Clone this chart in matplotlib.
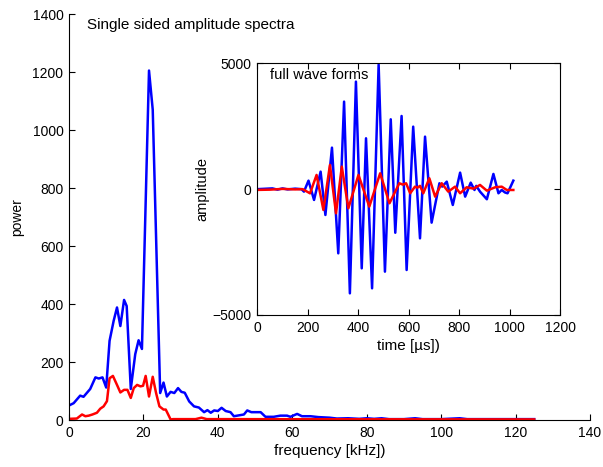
import matplotlib
matplotlib.use("Agg")
import matplotlib.pyplot as plt

plt.rcParams['font.family'] = ['Liberation Sans', 'DejaVu Sans']
plt.rcParams['font.size'] = 10

# Spectra (frequency kHz, power)
blue_f = [0, 1.25, 3.0, 3.9, 5.7, 7.1, 8.0, 9.0, 10.0, 10.9, 12.0, 12.9, 13.8, 14.8, 15.5, 16.6,
          17.8, 18.7, 19.6, 21.5, 22.5, 24.5, 25.4, 26.3, 27.3, 28.3, 29.3, 30.2, 31.1, 32.3,
          33.6, 34.9, 36.3, 37.2, 38.1, 39.0, 40.0, 41.0, 42.1, 43.4, 44.3, 46.1, 47.0, 47.9,
          49.0, 51.5, 52.8, 55.0, 56.8, 58.6, 59.5, 61.3, 62.6, 64.9, 67, 70, 72, 75, 78, 80,
          82, 84, 86, 90, 93, 95, 100, 105, 107, 115, 120, 125]
blue_p = [50, 58, 84, 80, 107, 147, 143, 147, 112, 273, 342, 388, 324, 414, 393, 107,
          227, 275, 245, 1205, 1070, 93, 129, 81, 97, 93, 110, 97, 94, 64,
          47, 43, 27, 34, 25, 33, 31, 42, 31, 27, 13, 17, 19, 33,
          27, 27, 11, 11, 15, 15, 11, 21, 13, 13, 10, 8, 5, 6, 4, 6,
          4, 6, 3, 3, 6, 3, 3, 6, 3, 3, 3, 3]
red_f = [0, 2.1, 3.5, 4.4, 5.3, 6.3, 7.5, 8.4, 9.3, 10.2, 10.9, 11.8, 12.9, 13.8, 14.8, 15.7,
         16.6, 17.4, 18.3, 19.2, 19.9, 20.6, 21.5, 22.5, 23.4, 24.3, 25.4, 26.0, 27.3, 28,
         34, 35.6, 37, 125]
red_p = [4, 5, 19, 13, 15, 19, 25, 39, 47, 65, 144, 152, 121, 95, 104, 104,
         76, 110, 121, 116, 118, 152, 81, 149, 93, 47, 36, 36, 2, 3,
         3, 8, 3, 2]

# Full wave forms (time us, amplitude)
blue_t = [0, 60, 80, 100, 120, 150, 175, 185, 203, 225, 251, 270, 296, 321, 344, 367, 391, 414,
          431, 455, 481, 506, 529, 547, 572, 592, 618, 645, 665, 691, 722, 733, 751, 775, 804,
          824, 846, 861, 868, 883, 910, 936, 956, 969, 982, 992, 1015]
blue_a = [0, 30, -20, 30, -10, 20, 0, -99, 338, -429, 695, -1026, 1649, -2550, 3477, -4139, 4272,
          -3146, 2020, -3940, 4950, -3278, 2775, -1732, 2907, -3212, 2483, -1954, 2086, -1331,
          234, 100, 298, -628, 656, -298, 258, -33, 130, -99, -401, 604, -164, -33, -132, -164, 338]
red_t = [0, 50, 100, 150, 180, 209, 235, 262, 288, 312, 335, 361, 401, 444, 487, 524, 563, 577,
         590, 606, 625, 635, 645, 658, 682, 705, 731, 757, 784, 804, 830, 857, 883, 910, 943,
         969, 989, 1015]
red_a = [-30, -20, 10, -10, 0, -166, 564, -826, 962, -958, 894, -760, 564, -694, 630, -561, 234,
         180, 234, -164, 99, 60, 130, -164, 433, -298, 234, -99, 99, -164, 75, 20, 167, -60, 75,
         99, -33, -33]

main_xticks = [0, 20, 40, 60, 80, 100, 120, 140]
main_yticks = [0, 200, 400, 600, 800, 1000, 1200, 1400]
inset_xticks = [0, 200, 400, 600, 800, 1000, 1200]
inset_yticks = [-5000, 0, 5000]

W, H = 603, 467
fig = plt.figure(figsize=(W / 100, H / 100), dpi=100)

LW = 1.8
ax = fig.add_axes([69 / W, 1 - 420 / H, (590 - 69) / W, (420 - 14) / H])
ax.plot(blue_f, blue_p, color='#0000ff', lw=LW)
ax.plot(red_f, red_p, color='#ff0000', lw=LW)
ax.set_xlim(0, 140)
ax.set_ylim(0, 1400)
ax.set_xticks(main_xticks)
ax.set_yticks(main_yticks)
ax.spines['top'].set_visible(False)
ax.spines['right'].set_visible(False)
ax.tick_params(direction='in', length=4, width=0.8, labelsize=10, pad=4)
ax.set_xlabel('frequency [kHz])', fontsize=11, labelpad=3)
ax.set_ylabel('power', fontsize=10, labelpad=6)
ax.text(0.0345, 0.973, 'Single sided amplitude spectra', transform=ax.transAxes,
        ha='left', va='center', fontsize=11)

ins = fig.add_axes([257.3 / W, 1 - 315 / H, (560 - 257.3) / W, (315 - 63.3) / H])
ins.plot(blue_t, blue_a, color='#0000ff', lw=LW)
ins.plot(red_t, red_a, color='#ff0000', lw=LW)
ins.set_xlim(0, 1200)
ins.set_ylim(-5000, 5000)
ins.set_xticks(inset_xticks)
ins.set_yticks(inset_yticks)
ins.tick_params(direction='in', length=4, width=0.8, labelsize=10, top=True, right=True, pad=4)
ins.set_xlabel('time [\u00b5s])', fontsize=11, labelpad=3)
ins.set_ylabel('amplitude', fontsize=10.5, labelpad=2)
ins.text(0.042, 0.953, 'full wave forms', transform=ins.transAxes,
         ha='left', va='center', fontsize=10.5)

fig.savefig('out.png', dpi=100)
